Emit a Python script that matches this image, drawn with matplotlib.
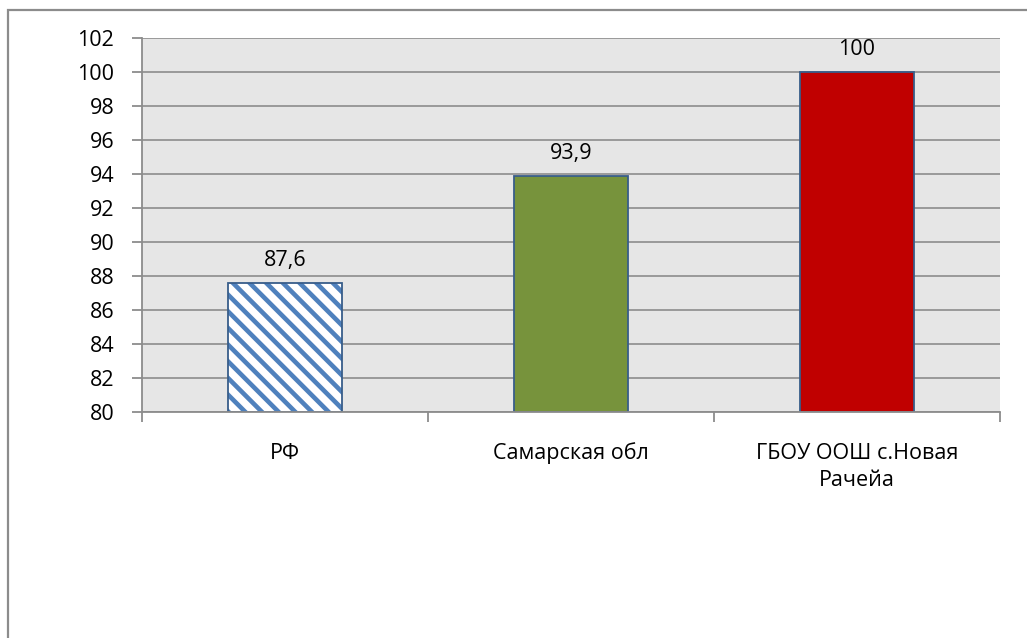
import matplotlib
matplotlib.use("Agg")
import matplotlib.pyplot as plt
from matplotlib.patches import Rectangle
import numpy as np

categories = ["РФ", "Самарская обл", "ГБОУ ООШ с.Новая\nРачейа"]
values = [87.6, 93.9, 100]
value_labels = ["87,6", "93,9", "100"]
y_ticks = list(range(80, 103, 2))

plt.rcParams["font.family"] = ["Open Sans", "DejaVu Sans"]
plt.rcParams["hatch.linewidth"] = 3.3

W, H = 1027, 638
fig = plt.figure(figsize=(W / 100, H / 100), dpi=100)
fig.patch.set_facecolor("white")

# outer chart frame (only left and top edges fall inside the image)
fig.patches.append(Rectangle((8 / W, -0.2), 1.2, (1 - 10 / H) + 0.2,
                             transform=fig.transFigure, fill=False,
                             edgecolor="#8c8c8c", linewidth=1.6))

ax = fig.add_axes([142 / W, 1 - 412 / H, (1000 - 142) / W, (412 - 38) / H])
ax.set_facecolor("#e6e6e6")

x = np.arange(len(categories))
width = 0.4
fs = 15.5

# hatched first bar
ax.bar(x[0], values[0] - 80, bottom=80, width=width, color="white",
       edgecolor="#4f81bd", hatch="\\\\", linewidth=0, zorder=3)
ax.bar(x[0], values[0] - 80, bottom=80, width=width, fill=False,
       edgecolor="#385d8a", linewidth=1.3, zorder=4)
# solid bars
ax.bar(x[1], values[1] - 80, bottom=80, width=width, color="#77933c",
       edgecolor="#385d8a", linewidth=1.3, zorder=3)
ax.bar(x[2], values[2] - 80, bottom=80, width=width, color="#c00000",
       edgecolor="#385d8a", linewidth=1.3, zorder=3)

for xi, v, lab in zip(x, values, value_labels):
    ax.text(xi, v + 0.7, lab, ha="center", va="bottom", fontsize=fs,
            color="black", zorder=5)

ax.set_xlim(-0.5, len(categories) - 0.5)
ax.set_ylim(80, 102)
ax.set_yticks(y_ticks)
ax.set_yticklabels([str(t) for t in y_ticks], fontsize=fs)
ax.yaxis.grid(True, color="#8c8c8c", linewidth=1.2, zorder=1)
ax.set_axisbelow(True)

ax.set_xticks(x)
ax.set_xticklabels(categories, fontsize=fs, linespacing=1.4)
ax.tick_params(axis="x", length=0, pad=22)
ax.set_xticks(np.arange(-0.5, len(categories), 1), minor=True)
ax.tick_params(axis="x", which="minor", length=7, width=1.3, color="#8c8c8c",
               direction="out")
ax.tick_params(axis="y", length=7, width=1.3, color="#8c8c8c", pad=13)

for s in ["top", "right"]:
    ax.spines[s].set_visible(False)
for s in ["left", "bottom"]:
    ax.spines[s].set_color("#8c8c8c")
    ax.spines[s].set_linewidth(1.3)
ax.spines["bottom"].set_zorder(6)

fig.savefig("out.png", dpi=100, facecolor="white")
